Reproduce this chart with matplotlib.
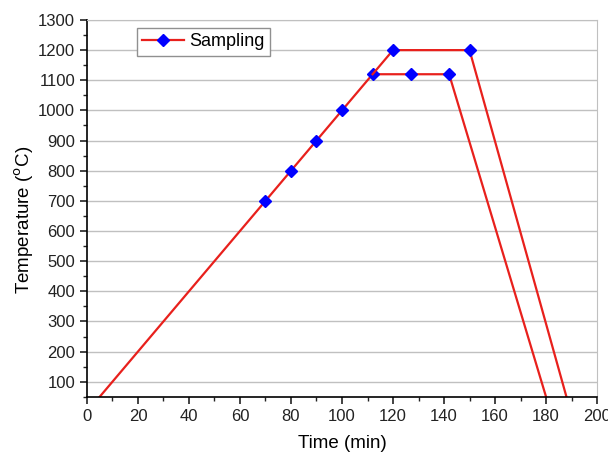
import matplotlib
matplotlib.use("Agg")
import matplotlib.pyplot as plt
from matplotlib.ticker import MultipleLocator

plt.rcParams['font.family'] = ['Liberation Sans', 'DejaVu Sans']

# heating ramp + 1120 C hold, then cooling
time_a = [5, 70, 80, 90, 100, 112, 127, 142, 180]
temp_a = [50, 700, 800, 900, 1000, 1120, 1120, 1120, 50]
marks_a = [1, 2, 3, 4, 5, 6, 7]

# branch to 1200 C hold
time_b = [112, 120, 150, 188]
temp_b = [1120, 1200, 1200, 50]
marks_b = [1, 2]

fig = plt.figure(figsize=(6.08, 4.54), dpi=100)
ax = fig.add_axes([0.143, 0.126, 0.839, 0.83])

ax.plot(time_a, temp_a, '-', color='#e8201c', lw=1.6, marker='D', ms=6.5,
        mfc='#0000ff', mec='#0000ff', markevery=marks_a, label='Sampling')
ax.plot(time_b, temp_b, '-', color='#e8201c', lw=1.6, marker='D', ms=6.5,
        mfc='#0000ff', mec='#0000ff', markevery=marks_b)

ax.set_xlim(0, 200)
ax.set_ylim(50, 1300)
ax.xaxis.set_major_locator(MultipleLocator(20))
ax.xaxis.set_minor_locator(MultipleLocator(10))
ax.yaxis.set_major_locator(MultipleLocator(100))
ax.yaxis.set_minor_locator(MultipleLocator(50))
ax.set_yticks(range(100, 1301, 100))

ax.grid(axis='y', color='#c0c0c0', lw=1)
ax.set_axisbelow(True)

for s in ['top', 'right']:
    ax.spines[s].set_color('#c0c0c0')
for s in ['left', 'bottom']:
    ax.spines[s].set_color('black')
    ax.spines[s].set_linewidth(1.2)
ax.tick_params(which='both', direction='out', top=False, right=False, labelsize=12, colors='#222222')
ax.tick_params(which='major', length=5, width=1.2)
ax.tick_params(which='minor', length=3, width=1)

ax.set_xlabel('Time (min)', fontsize=13.5, labelpad=8)
ax.set_ylabel('Temperature ($^{\\rm o}$C)', fontsize=13.5)
ax.yaxis.set_label_coords(-0.099, 0.47)

leg = ax.legend(loc='upper left', bbox_to_anchor=(0.098, 0.979), borderaxespad=0,
                fontsize=13, fancybox=False, framealpha=1, edgecolor='#909090',
                handlelength=2.3, handletextpad=0.3, borderpad=0.3)
leg.get_frame().set_linewidth(1)

fig.savefig('out.png', dpi=100)
